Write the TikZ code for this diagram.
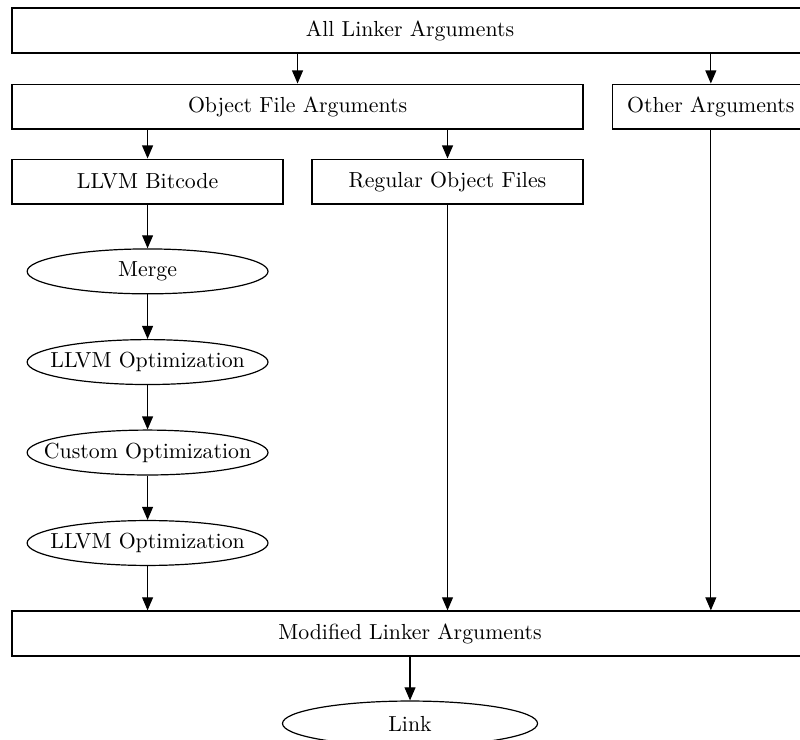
\documentclass[tikz,border=0pt]{standalone}
\usetikzlibrary{arrows.meta,shapes.geometric}
\tikzset{
  boite/.style={draw,line width=0.55pt,minimum height=20.6pt,inner sep=0pt},
  etape/.style={draw,ellipse,line width=0.55pt,minimum width=110.5pt,minimum height=20.6pt,inner xsep=-9pt,inner ysep=0pt},
  fleche/.style={line width=0.55pt,-{Triangle[length=6pt,width=5pt]}}
}
\begin{document}
\begin{tikzpicture}[x=1pt,y=1pt]
    \useasboundingbox (0,0) rectangle (367,-339.4);
    % définition des boîtes
    \node[boite,minimum width=365.1pt] (all) at (188.1,-14.0) {All Linker Arguments};
    \node[boite,minimum width=261.9pt] (obj) at (136.5,-48.9) {Object File Arguments};
    \node[boite,minimum width=89.9pt] (other) at (326.1,-48.9) {Other Arguments};
    \node[boite,minimum width=124.3pt] (bitcode) at (67.7,-83.3) {LLVM Bitcode};
    \node[boite,minimum width=124.3pt] (regular) at (205.3,-83.3) {Regular Object Files};
    \node[boite,minimum width=365.1pt] (modified) at (188.1,-290.6) {Modified Linker Arguments};
    % étapes
    \node[etape] (merge) at (67.7,-124.5) {Merge};
    \node[etape] (opta) at (67.7,-166.1) {LLVM Optimization};
    \node[etape] (custom) at (67.7,-207.6) {Custom Optimization};
    \node[etape] (optb) at (67.7,-249.1) {LLVM Optimization};
    \node[etape,minimum width=117pt] (link) at (188.1,-331.9) {Link};
    % tracer les flèches
    \draw[fleche] (all.south -| obj.north) -- (obj.north);
    \draw[fleche] (all.south -| other.north) -- (other.north);
    \draw[fleche] (obj.south -| bitcode.north) -- (bitcode.north);
    \draw[fleche] (obj.south -| regular.north) -- (regular.north);
    \draw[fleche] (bitcode) -- (merge);
    \draw[fleche] (merge) -- (opta);
    \draw[fleche] (opta) -- (custom);
    \draw[fleche] (custom) -- (optb);
    \draw[fleche] (optb.south) -- (optb.south |- modified.north);
    \draw[fleche] (regular.south) -- (regular.south |- modified.north);
    \draw[fleche] (other.south) -- (other.south |- modified.north);
    \draw[fleche] (modified) -- (link);
\end{tikzpicture}
\end{document}
